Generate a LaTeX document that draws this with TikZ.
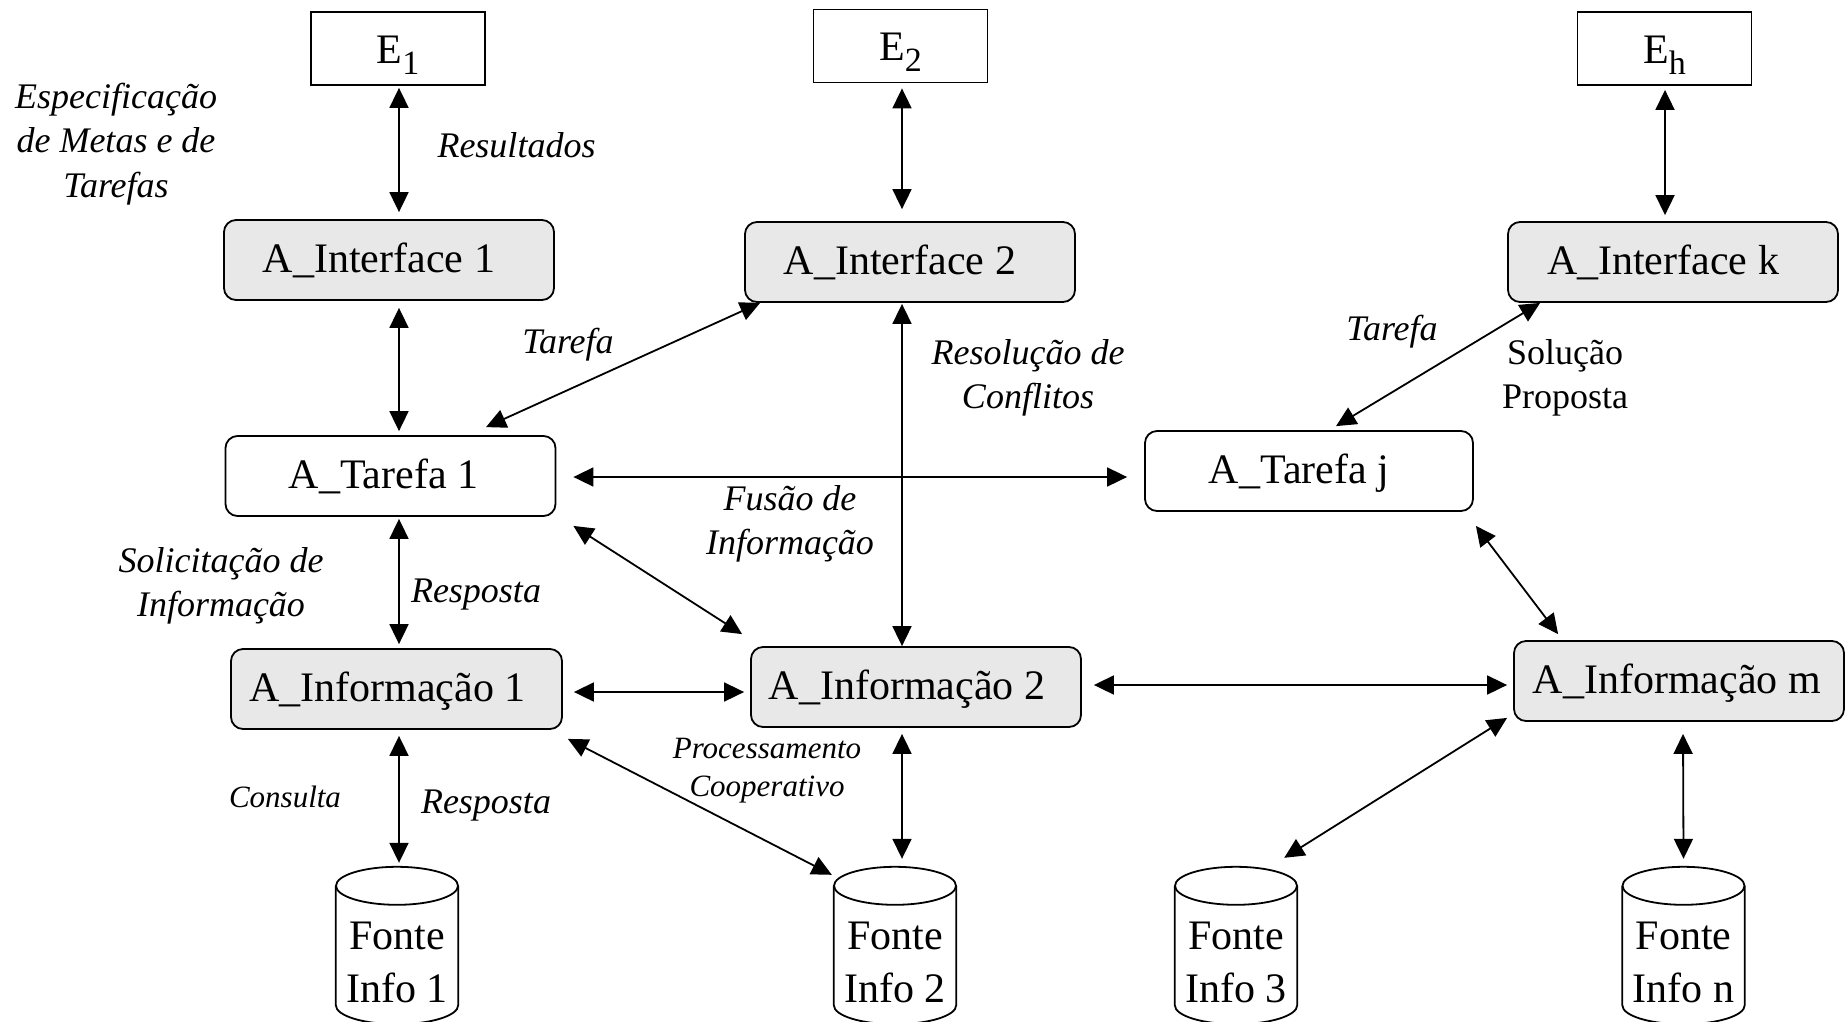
\documentclass[tikz,border=0pt]{standalone}
\usepackage{fontspec}
\setmainfont{Liberation Serif}
\usetikzlibrary{arrows.meta,calc}
\definecolor{agentfill}{RGB}{232,232,232}

% outline of a database cylinder drawn around a named node
\newcommand{\cylinderoutline}[1]{%
  \draw[outline] ($(#1.north west)+(0,19)$) -- ($(#1.south west)+(0,-19)$)
    .. controls +(0,10.5) and +(-33.7,0) .. (#1.south)
    .. controls +(33.7,0) and +(0,10.5) .. ($(#1.south east)+(0,-19)$)
    -- ($(#1.north east)+(0,19)$);
  \draw[outline] ($(#1.north)+(0,19)$) ellipse [x radius=61, y radius=19];
}
\newcommand{\subE}[1]{E\raisebox{-11pt}{\fontsize{34}{34}\selectfont #1}}
% agent captions sit a little left of the box centre
\newcommand{\agentcaption}[2][20pt]{#2\kern#1}

\tikzset{
  outline/.style={line width=1.8pt, draw=black},
  ebox/.style={draw, line width=1.8pt, minimum width=174pt, minimum height=73pt,
    inner sep=0pt, font=\fontsize{42}{50}\selectfont, text height=29pt, text depth=0pt},
  agent/.style={draw, line width=1.8pt, rounded corners=12pt, minimum width=330pt,
    minimum height=80pt, inner sep=0pt, font=\fontsize{42}{50}\selectfont,
    text height=31pt, text depth=7pt},
  shaded agent/.style={agent, fill=agentfill},
  store/.style={minimum width=122pt, minimum height=157pt, inner sep=0pt},
  storetext/.style={align=center, inner sep=0pt, font=\fontsize{42}{53}\selectfont},
  lbl/.style={inner sep=0pt, font=\fontsize{36}{44.5}\selectfont\itshape, align=center},
  lblone/.style={inner sep=0pt, font=\fontsize{36}{44.5}\selectfont\itshape, anchor=base},
  uplbl/.style={inner sep=0pt, font=\fontsize{36}{44.5}\selectfont, align=center},
  smalllbl/.style={inner sep=0pt, font=\fontsize{31}{38}\selectfont\itshape, align=center},
  smallone/.style={inner sep=0pt, font=\fontsize{31}{38}\selectfont\itshape, anchor=base},
  >={Triangle[length=20pt,width=19pt]},
  conn/.style={line width=1.8pt, <->},
}

\begin{document}
\begin{tikzpicture}[x=1pt,y=-1pt]
\useasboundingbox[fill=white] (0,0) rectangle (1847,1021);

% environment boxes
\node[ebox] (e1) at (398,48.5) {\subE{1}};
\node[ebox] (e2) at (900.5,46) {\subE{2}};
\node[ebox] (eh) at (1664.5,48.5) {\subE{h}};

% interface agents
\node[shaded agent] (ai1) at (389,260) {\agentcaption{A\_Interface 1}};
\node[shaded agent] (ai2) at (910,262) {\agentcaption{A\_Interface 2}};
\node[shaded agent] (aik) at (1673,262) {\agentcaption{A\_Interface k}};

% task agents
\node[agent] (at1) at (390.5,476) {\agentcaption[14pt]{A\_Tarefa 1}};
\node[agent, minimum width=328pt] (atj) at (1309,471) {\agentcaption{A\_Tarefa j}};

% information agents
\node[shaded agent, minimum width=331pt] (af1) at (396.5,689) {\agentcaption[18pt]{A\_Informação 1}};
\node[shaded agent] (af2) at (916,687) {\agentcaption[18pt]{A\_Informação 2}};
\node[shaded agent] (afm) at (1679,681) {\agentcaption[4pt]{A\_Informação m}};

% information sources
\node[store] (fi1) at (397,945.5) {};
\node[store] (fi2) at (895,945.5) {};
\node[store] (fi3) at (1236,945.5) {};
\node[store] (fin) at (1683.5,945.5) {};
\cylinderoutline{fi1}
\cylinderoutline{fi2}
\cylinderoutline{fi3}
\cylinderoutline{fin}
\node[storetext] (fi1t) at (397,962.6) {Fonte\\Info 1};
\node[storetext] (fi2t) at (895,962.6) {Fonte\\Info 2};
\node[storetext] (fi3t) at (1236,962.6) {Fonte\\Info 3};
\node[storetext] (fint) at (1683.5,962.6) {Fonte\\Info n};

% connectors
\draw[conn] ([shift={(1,2)}]e1.south) -- ([shift={(10,-7)}]ai1.north);
\draw[conn] ([shift={(1.5,5)}]e2.south) -- ([shift={(-8,-12)}]ai2.north);
\draw[conn] ([shift={(0.5,4)}]eh.south) -- ([shift={(-8,-6)}]aik.north);
\draw[conn] ([shift={(10,7)}]ai1.south) -- ([shift={(8.5,-4)}]at1.north);
\draw[conn] ([shift={(95.5,-8)}]at1.north) -- ([shift={(16,0)}]ai2.south west);
\draw[conn] ([shift={(17,1)}]at1.east) -- ([shift={(-17,6)}]atj.west);
\draw[conn] ([shift={(-8,1)}]ai2.south) -- ([shift={(-14,0)}]af2.north);
\draw[conn] ([shift={(17,9)}]at1.south east) -- ([shift={(-8,-12)}]af2.north west);
\draw[conn] ([shift={(8.5,2)}]at1.south) -- ([shift={(2.5,-4)}]af1.north);
\draw[conn] ([shift={(11,3)}]af1.east) -- ([shift={(-6,5)}]af2.west);
\draw[conn] ([shift={(12,-2)}]af2.east) -- ([shift={(-6,4)}]afm.west);
\draw[conn] ([shift={(27,-4)}]atj.north) -- ([shift={(33,0)}]aik.south west);
\draw[conn] ([shift={(2,14)}]atj.south east) -- ([shift={(45,-6)}]afm.north west);
\draw[conn] ([shift={(2.5,6)}]af1.south) -- ([shift={(2,-4)}]fi1.north);
\draw[conn] ([shift={(5,9)}]af1.south east) -- ([shift={(-2,8)}]fi2.north west);
\draw[conn] ([shift={(-14,6)}]af2.south) -- ([shift={(7,-8)}]fi2.north);
\draw[conn] ([shift={(-6,-4)}]afm.south west) -- ([shift={(-13,-9)}]fi3.north east);
\draw[conn] ([shift={(4,12)}]afm.south) -- ([shift={(0,-8)}]fin.north);

% connector labels
\node[lbl] (l-spec) at (116,144) {Especificação\\de Metas e de\\Tarefas};
\node[lblone] (l-res) at (516.5,157) {Resultados};
\node[lblone] (l-taf1) at (568,353) {Tarefa};
\node[lbl] (l-conf) at (1028,378) {Resolução de\\Conflitos};
\node[lblone] (l-taf2) at (1392,340) {Tarefa};
\node[uplbl] (l-sol) at (1565,378) {Solução\\Proposta};
\node[lbl] (l-fus) at (790,524) {Fusão de\\Informação};
\node[lbl] (l-sinf) at (221,586) {Solicitação de\\Informação};
\node[lblone] (l-resp1) at (476,602) {Resposta};
\node[smalllbl] (l-proc) at (767,771) {Processamento\\Cooperativo};
\node[smallone] (l-cons) at (285,807) {Consulta};
\node[lblone] (l-resp2) at (486,813) {Resposta};
\end{tikzpicture}
\end{document}
